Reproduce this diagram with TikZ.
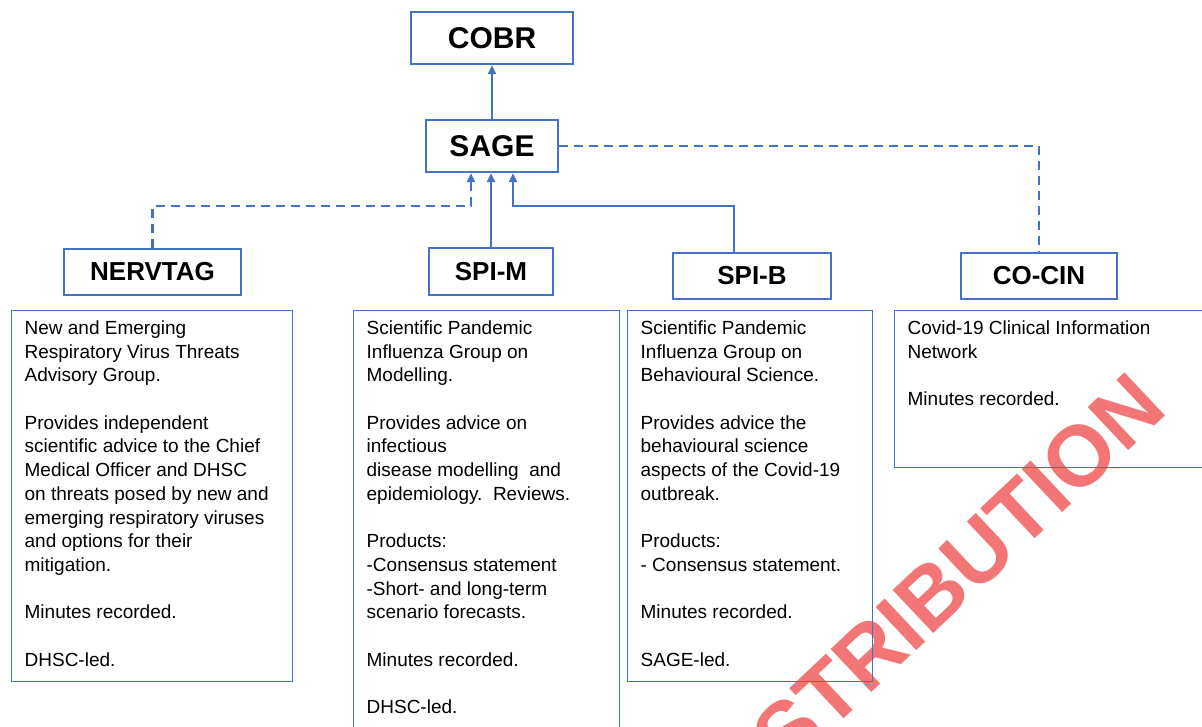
\documentclass[tikz,border=0pt]{standalone}
\usepackage{fontspec}
\setmainfont{Liberation Sans}
\usetikzlibrary{arrows.meta}

\definecolor{orgblue}{RGB}{68,114,196}
\definecolor{stampred}{RGB}{242,118,118}

% text block of a description box, top aligned in a fixed height
\newcommand{\desctext}[3]{\parbox[c][#2][t]{#1}{\raggedright #3}}

\begin{document}
\begin{tikzpicture}[x=1pt, y=-1pt, >={Triangle[length=9pt, width=8pt]},
  headbox/.style={draw=orgblue, line width=2.4pt, inner sep=0pt,
    font=\fontsize{30}{36}\selectfont\bfseries},
  subbox/.style={draw=orgblue, line width=2.2pt, inner sep=0pt,
    font=\fontsize{26}{30}\selectfont\bfseries},
  descbox/.style={draw=orgblue, line width=1.3pt, anchor=north west,
    inner xsep=13pt, inner ysep=10pt, font=\fontsize{19}{23.7}\selectfont},
  link/.style={orgblue, line width=2.2pt},
  dlink/.style={link, dash pattern=on 9pt off 6pt}]

  % parameters
  \def\ybar{206}   % height of the horizontal feeder lines
  \def\dx{21}      % offset of the side arrows into SAGE

  \useasboundingbox (0,0) rectangle (1202,727);
  \clip (0,0) rectangle (1202,727);

  % 1. watermark (behind everything)
  \node[text=stampred, rotate=43.3, inner sep=0pt,
    font=\fontsize{86}{86}\selectfont\bfseries] (wmark) at (927,600) {DISTRIBUTION};

  % 2. top of the hierarchy
  \node[headbox, minimum width=162pt, minimum height=52pt] (cobr) at (492,38) {COBR};
  \node[headbox, minimum width=132pt, minimum height=52pt] (sage) at (492,146) {SAGE};

  % 3. sub groups
  \node[subbox, minimum width=177pt, minimum height=46pt] (nervtag) at (152.5,272) {NERVTAG};
  \node[subbox, minimum width=124pt, minimum height=47pt] (spim) at (491,271.5) {SPI-M};
  \node[subbox, minimum width=158pt, minimum height=46pt] (spib) at (752,276) {SPI-B};
  \node[subbox, minimum width=156pt, minimum height=46pt] (cocin) at (1039,276) {CO-CIN};

  % 4. description boxes
  \node[descbox] (nervtagd) at (11,310) {\desctext{255pt}{351pt}{%
    New and Emerging\\
    Respiratory Virus Threats\\
    Advisory Group.\\[\baselineskip]
    Provides independent\\
    scientific advice to the Chief\\
    Medical Officer and DHSC\\
    on threats posed by new and\\
    emerging respiratory viruses\\
    and options for their\\
    mitigation.\\[\baselineskip]
    Minutes recorded.\\[\baselineskip]
    DHSC-led.}};

  \node[descbox] (spimd) at (353,310) {\desctext{240pt}{460pt}{%
    Scientific Pandemic\\
    Influenza Group on\\
    Modelling.\\[\baselineskip]
    Provides advice on\\
    infectious\\
    disease modelling\ \ and\\
    epidemiology.\ \ Reviews.\\[\baselineskip]
    Products:\\
    -Consensus statement\\
    -Short- and long-term\\
    scenario forecasts.\\[\baselineskip]
    Minutes recorded.\\[\baselineskip]
    DHSC-led.}};

  \node[descbox] (spibd) at (627,310) {\desctext{219pt}{351pt}{%
    Scientific Pandemic\\
    Influenza Group on\\
    Behavioural Science.\\[\baselineskip]
    Provides advice the\\
    behavioural science\\
    aspects of the Covid-19\\
    outbreak.\\[\baselineskip]
    Products:\\
    - Consensus statement.\\[\baselineskip]
    Minutes recorded.\\[\baselineskip]
    SAGE-led.}};

  \node[descbox] (cocind) at (894,310) {\desctext{295pt}{137pt}{%
    Covid-19 Clinical Information\\
    Network\\[\baselineskip]
    Minutes recorded.}};

  % 5. connectors
  \draw[link, ->] (sage) -- (cobr);
  \draw[dlink, ->] (nervtag.north) |- (492-\dx,\ybar) -- ([xshift=-\dx pt]sage.south);
  \draw[link, ->] (spim.north) -- (spim.north |- sage.south);
  \draw[link, ->] ([xshift=-18pt]spib.north) |- (492+\dx,\ybar) -- ([xshift=\dx pt]sage.south);
  \draw[dlink] (sage.east) -| (cocin.north);

\end{tikzpicture}
\end{document}
